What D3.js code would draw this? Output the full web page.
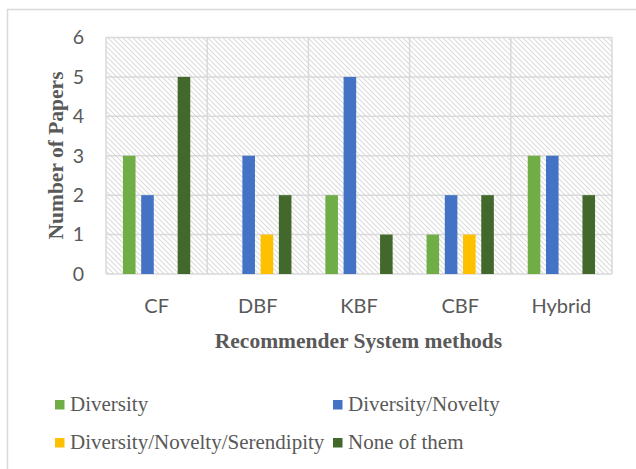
<!DOCTYPE html>
<html>
<head>
<meta charset="utf-8">
<script src="https://cdn.jsdelivr.net/npm/d3@7/dist/d3.min.js"></script>
<style>
  html, body { margin: 0; padding: 0; background: #fff; }
  svg { display: block; }
</style>
</head>
<body>
<svg id="chart" width="636" height="469"></svg>
<script>
// Recommender system methods and how many papers address each quality
const categories = ["CF", "DBF", "KBF", "CBF", "Hybrid"];
const seriesNames = ["Diversity", "Diversity/Novelty", "Diversity/Novelty/Serendipity", "None of them"];
const diversity = [3, 0, 2, 1, 3];
const diversityNovelty = [2, 3, 5, 2, 3];
const diversityNoveltySerendipity = [0, 1, 0, 1, 0];
const noneOfThem = [5, 2, 1, 2, 2];
const yTicks = [0, 1, 2, 3, 4, 5, 6];
const seriesColors = ["#70ad47", "#4472c4", "#ffc000", "#43682b"];

const seriesValues = [diversity, diversityNovelty, diversityNoveltySerendipity, noneOfThem];

const svg = d3.select("#chart");
const plot = { left: 106, right: 612, top: 37.5, bottom: 274 };
const gridColor = "#d9d9d9";
const textColor = "#595959";
const serif = "'Liberation Serif', 'Times New Roman', serif";
const sans = "Lato, 'Open Sans', sans-serif";

// outer frame of the chart
svg.append("path")
  .attr("d", "M7.5,469 V9.5 H640")
  .attr("fill", "none")
  .attr("stroke", gridColor)
  .attr("stroke-width", 1.5);

// diagonal hatch fill for the plot area
const defs = svg.append("defs");
const pat = defs.append("pattern")
  .attr("id", "hatch")
  .attr("patternUnits", "userSpaceOnUse")
  .attr("width", 5).attr("height", 5);
pat.append("rect").attr("width", 5).attr("height", 5).attr("fill", "#ffffff");
pat.append("path")
  .attr("d", "M-1,-1 L6,6 M-1,4 L1,6 M4,-1 L6,1")
  .attr("stroke", "#dcdcdc")
  .attr("stroke-width", 1.1);

const x0 = d3.scaleBand().domain(categories).range([plot.left, plot.right]).padding(0);
const x1 = d3.scaleBand().domain(seriesNames).range([0, x0.bandwidth()])
  .paddingInner(0.31).paddingOuter(0.93);
const y = d3.scaleLinear().domain([0, 6]).range([plot.bottom, plot.top]);

svg.append("rect")
  .attr("x", plot.left).attr("y", plot.top)
  .attr("width", plot.right - plot.left).attr("height", plot.bottom - plot.top)
  .attr("fill", "url(#hatch)");

// horizontal gridlines
svg.append("g").selectAll("line").data(yTicks).join("line")
  .attr("x1", plot.left).attr("x2", plot.right)
  .attr("y1", d => y(d)).attr("y2", d => y(d))
  .attr("stroke", gridColor).attr("stroke-width", 1.5);

// vertical gridlines at category boundaries
const bounds = categories.map(c => x0(c)).concat([plot.right]);
svg.append("g").selectAll("line").data(bounds).join("line")
  .attr("x1", d => d).attr("x2", d => d)
  .attr("y1", plot.top).attr("y2", plot.bottom)
  .attr("stroke", gridColor).attr("stroke-width", 1.5);

// bars
const barData = [];
categories.forEach((c, i) => {
  seriesNames.forEach((s, j) => {
    barData.push({ cat: c, series: s, value: seriesValues[j][i], color: seriesColors[j] });
  });
});
svg.append("g").selectAll("rect").data(barData.filter(d => d.value > 0)).join("rect")
  .attr("x", d => x0(d.cat) + x1(d.series))
  .attr("width", x1.bandwidth())
  .attr("y", d => y(d.value))
  .attr("height", d => y(0) - y(d.value))
  .attr("fill", d => d.color);

// y axis labels
const yAxis = d3.axisLeft(y).tickValues(yTicks).tickFormat(d3.format("d")).tickSize(0).tickPadding(22);
const yg = svg.append("g").attr("transform", `translate(${plot.left},0)`).call(yAxis);
yg.select(".domain").remove();
yg.selectAll("text")
  .attr("font-family", sans)
  .attr("font-size", 19.5)
  .attr("fill", textColor);

// x axis labels
const xAxis = d3.axisBottom(x0).tickSize(0).tickPadding(25);
const xg = svg.append("g").attr("transform", `translate(0,${plot.bottom})`).call(xAxis);
xg.select(".domain").remove();
xg.selectAll("text")
  .attr("font-family", sans)
  .attr("font-size", 20)
  .attr("fill", textColor);

// axis titles
svg.append("text")
  .attr("transform", "translate(63,155.5) rotate(-90)")
  .attr("text-anchor", "middle")
  .attr("font-family", serif)
  .attr("font-weight", "bold")
  .attr("font-size", 21.5)
  .attr("fill", textColor)
  .text("Number of Papers");

svg.append("text")
  .attr("x", 358.5).attr("y", 348)
  .attr("text-anchor", "middle")
  .attr("font-family", serif)
  .attr("font-weight", "bold")
  .attr("font-size", 21.5)
  .attr("fill", textColor)
  .text("Recommender System methods");

// legend
const legendPos = [[55, 400], [333, 400], [55, 438], [333, 438]];
const lg = svg.append("g").selectAll("g").data(seriesNames).join("g")
  .attr("transform", (d, i) => `translate(${legendPos[i][0]},${legendPos[i][1]})`);
lg.append("rect").attr("width", 9.5).attr("height", 9.5)
  .attr("fill", (d, i) => seriesColors[i]);
lg.append("text")
  .attr("x", 15).attr("y", 11)
  .attr("font-family", serif)
  .attr("font-size", 21)
  .attr("fill", textColor)
  .text(d => d);
</script>
</body>
</html>
